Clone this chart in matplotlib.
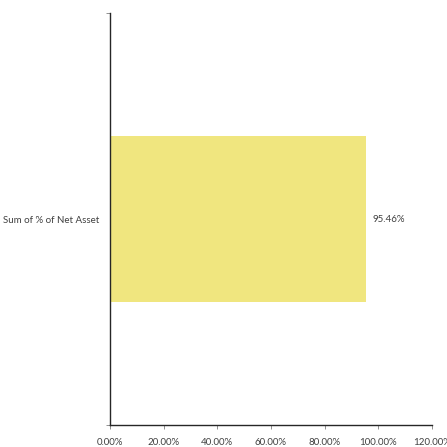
import matplotlib
matplotlib.use("Agg")
import matplotlib.pyplot as plt
from matplotlib.ticker import FixedLocator, PercentFormatter

plt.rcParams['font.family'] = ['Lato', 'DejaVu Sans']

categories = ["Sum of % of Net Asset"]
values = [95.46]
x_ticks = [0, 20, 40, 60, 80, 100, 120]

bar_color = "#F0E67F"
text_color = "#404040"
axis_color = "#262626"

fig = plt.figure(figsize=(4.47, 4.47), dpi=100)
ax = fig.add_axes([0.246, 0.049, 0.72, 0.922])

ypos = list(range(1, len(categories) + 1))
bars = ax.barh(ypos, values, height=0.403, color=bar_color, edgecolor="none")

ax.set_xlim(0, 120)
ax.set_ylim(0.5, len(categories) + 0.5)

ax.set_xticks(x_ticks)
ax.xaxis.set_major_formatter(PercentFormatter(decimals=2))
ax.tick_params(axis="x", direction="out", length=3, width=0.6, color="#7f7f7f",
               labelsize=7.0, labelcolor=text_color, pad=6)

ax.set_yticks(ypos)
ax.set_yticklabels(categories)
ax.tick_params(axis="y", length=0, labelsize=7.0, labelcolor=text_color, pad=7.5)
ax.yaxis.set_minor_locator(FixedLocator([0.5 + i for i in range(len(categories) + 1)]))
ax.tick_params(axis="y", which="minor", direction="out", length=3, width=0.6, color="#7f7f7f")

for side in ("top", "right"):
    ax.spines[side].set_visible(False)
for side in ("left", "bottom"):
    ax.spines[side].set_color(axis_color)
    ax.spines[side].set_linewidth(1.0)

for b, v in zip(bars, values):
    ax.annotate(f"{v:.2f}%", xy=(b.get_width(), b.get_y() + b.get_height() / 2),
                xytext=(5, 0), textcoords="offset points", va="center", ha="left",
                fontsize=7.0, color=text_color)

fig.savefig("out.png", dpi=100)
